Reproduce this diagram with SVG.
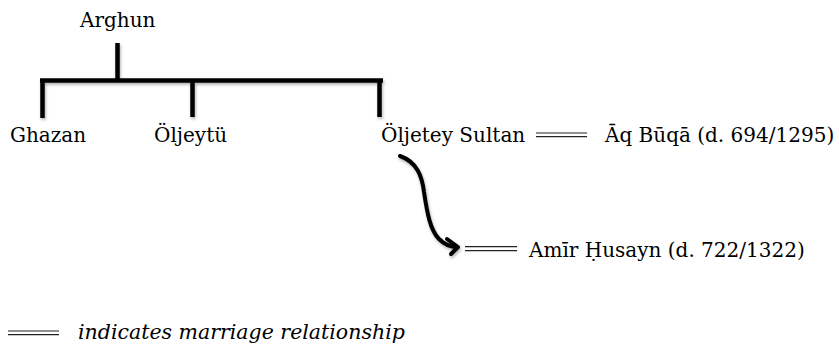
<svg xmlns="http://www.w3.org/2000/svg" width="839" height="344" viewBox="0 0 839 344">
  <style>
    text { font-family: "DejaVu Serif", "Liberation Serif", serif; fill: #000; }
    .name { font-size: 20px; }
    .legend { font-size: 20.5px; font-style: italic; }
    .tree { stroke: #000; stroke-width: 4.5; fill: none; filter: url(#shade); }
    .marriage { stroke: #222; stroke-width: 1.2; fill: none; }
    .curve { stroke: #000; stroke-width: 4; fill: none; stroke-linecap: round; stroke-linejoin: round; filter: url(#shade); }
  </style>
  <defs>
    <filter id="shade" x="-20%" y="-20%" width="140%" height="140%">
      <feDropShadow dx="1" dy="2" stdDeviation="1.5" flood-color="#000" flood-opacity="0.3"/>
    </filter>
  </defs>

  <rect width="839" height="344" fill="#fff"/>

  <!-- descent and marriage lines -->
  <g id="connectors">
    <path class="tree" d="M117.5,43 V80.5 M40,80.5 H383 M42.5,80.5 V118 M192.5,80.5 V117 M379.5,80.5 V117"/>
    <path class="tree" d="M585.5,155 V229"/>
    <g class="marriage">
      <path d="M536,133 H587 M536,136.7 H587"/>
      <path d="M465,246.7 H517 M465,250.7 H517"/>
    </g>
    <path class="curve" d="M400,156 C417,162 422,176 424,192 C427,212 430,230 439,239 C445,245 450,247 457,247 M447,239 L458,247 L451,254"/>
  </g>

  <g id="arghun"><text class="name" x="80" y="27">Arghun</text></g>
  <g id="ghazan"><text class="name" x="10" y="142">Ghazan</text></g>
  <g id="oljeytu"><text class="name" x="154" y="142">Öljeytü</text></g>
  <g id="oljetey-sultan"><text class="name" x="381" y="142">Öljetey Sultan</text></g>
  <g id="aq-buqa"><text class="name" x="605" y="142">Āq Būqā (d. 694/1295)</text></g>
  <g id="amir-husayn"><text class="name" x="529" y="257">Amīr Ḥusayn (d. 722/1322)</text></g>

  <g id="legend">
    <path class="marriage" d="M8,331 H59 M8,334.7 H59"/>
    <text class="legend" x="78" y="339">indicates marriage relationship</text>
  </g>
</svg>
